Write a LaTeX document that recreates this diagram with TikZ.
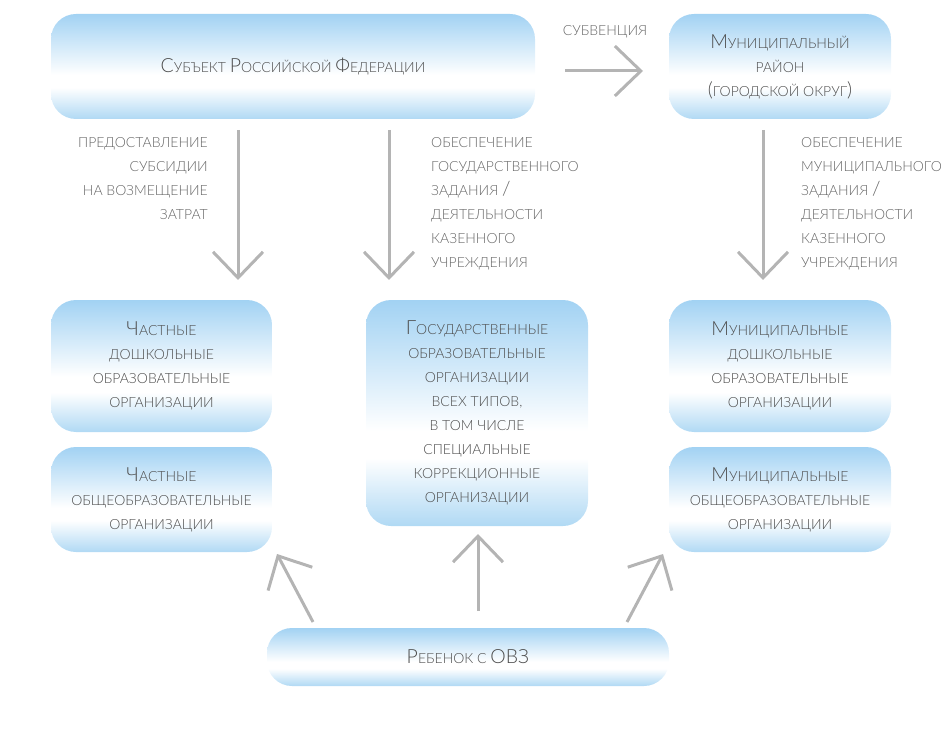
\documentclass[tikz,border=0pt]{standalone}
\usepackage{fontspec}
\setmainfont{Lato}[UprightFont=* Light]
\usetikzlibrary{arrows.meta}
\definecolor{btop}{HTML}{A2D2F3}
\definecolor{bbot}{HTML}{B0D9F4}
\definecolor{arrgray}{HTML}{B4B4B4}
\definecolor{txtc}{HTML}{4D4D4D}
\definecolor{lblc}{HTML}{666666}
\pgfdeclareverticalshading{boxshade}{100bp}{color(0bp)=(bbot); color(25bp)=(bbot); color(40bp)=(white); color(46bp)=(white); color(75bp)=(btop); color(100bp)=(btop)}
\newcommand\bigc[1]{{\fontsize{19.5}{24}\selectfont #1}}
\tikzset{
  box/.style={shading=boxshade, rounded corners=25pt, inner sep=0pt, align=center,
    text=txtc, font=\fontsize{14}{24}\selectfont},
  lbl/.style={inner sep=0pt, text=lblc, font=\fontsize{14}{24}\selectfont},
  arr/.style={draw=arrgray, line width=3pt, -{Straight Barb[length=26pt,width=50pt]}}
}
\begin{document}
\begin{tikzpicture}[x=1pt,y=-1pt]
\useasboundingbox (0,0) rectangle (942,735);
% boxes
\node[box, minimum width=484pt, minimum height=105pt] (subj) at (293,66.5)
  {\bigc{С}УБЪЕКТ \bigc{Р}ОССИЙСКОЙ \bigc{Ф}ЕДЕРАЦИИ};
\node[box, minimum width=222pt, minimum height=105pt] (mun) at (780,66.5)
  {\bigc{М}УНИЦИПАЛЬНЫЙ\\РАЙОН\\\bigc{(}ГОРОДСКОЙ ОКРУГ\bigc{)}};
\node[box, minimum width=221pt, minimum height=132pt] (pdo) at (161.5,366)
  {\bigc{Ч}АСТНЫЕ\\ДОШКОЛЬНЫЕ\\ОБРАЗОВАТЕЛЬНЫЕ\\ОРГАНИЗАЦИИ};
\node[box, minimum width=221pt, minimum height=105pt] (poo) at (161.5,499.5)
  {\bigc{Ч}АСТНЫЕ\\ОБЩЕОБРАЗОВАТЕЛЬНЫЕ\\ОРГАНИЗАЦИИ};
\node[box, minimum width=222pt, minimum height=226pt] (gos) at (477,413)
  {\bigc{Г}ОСУДАРСТВЕННЫЕ\\ОБРАЗОВАТЕЛЬНЫЕ\\ОРГАНИЗАЦИИ\\ВСЕХ ТИПОВ,\\В ТОМ ЧИСЛЕ\\СПЕЦИАЛЬНЫЕ\\КОРРЕКЦИОННЫЕ\\ОРГАНИЗАЦИИ};
\node[box, minimum width=222pt, minimum height=132pt] (mdo) at (780,366)
  {\bigc{М}УНИЦИПАЛЬНЫЕ\\ДОШКОЛЬНЫЕ\\ОБРАЗОВАТЕЛЬНЫЕ\\ОРГАНИЗАЦИИ};
\node[box, minimum width=222pt, minimum height=105pt] (moo) at (780,499.5)
  {\bigc{М}УНИЦИПАЛЬНЫЕ\\ОБЩЕОБРАЗОВАТЕЛЬНЫЕ\\ОРГАНИЗАЦИИ};
\node[box, minimum width=402pt, minimum height=58pt] (child) at (468,657)
  {\bigc{Р}ЕБЕНОК С \bigc{ОВЗ}};
% labels
\node[lbl, anchor=base] (lsub) at (605,36) {СУБВЕНЦИЯ};
\node[lbl, anchor=north east, align=right] (lleft) at (208,137)
  {ПРЕДОСТАВЛЕНИЕ\\СУБСИДИИ\\НА ВОЗМЕЩЕНИЕ\\ЗАТРАТ};
\node[lbl, anchor=north west, align=left] (lmid) at (431,137)
  {ОБЕСПЕЧЕНИЕ\\ГОСУДАРСТВЕННОГО\\ЗАДАНИЯ \bigc{/}\\ДЕЯТЕЛЬНОСТИ\\КАЗЕННОГО\\УЧРЕЖДЕНИЯ};
\node[lbl, anchor=north west, align=left] (lright) at (801,137)
  {ОБЕСПЕЧЕНИЕ\\МУНИЦИПАЛЬНОГО\\ЗАДАНИЯ \bigc{/}\\ДЕЯТЕЛЬНОСТИ\\КАЗЕННОГО\\УЧРЕЖДЕНИЯ};
% arrow end points
\coordinate (h1) at (565,71);   \coordinate (h2) at (643,71);
\coordinate (d1a) at (238,130); \coordinate (d1b) at (238,280);
\coordinate (d2a) at (389,130); \coordinate (d2b) at (389,280);
\coordinate (d3a) at (763,130); \coordinate (d3b) at (763,280);
\coordinate (u1a) at (313,622); \coordinate (u1b) at (277,554);
\coordinate (u2a) at (478,611); \coordinate (u2b) at (478,534);
\coordinate (u3a) at (627,622); \coordinate (u3b) at (663,554);
\draw[arr] (h1) -- (h2);
\draw[arr] (d1a) -- (d1b);
\draw[arr] (d2a) -- (d2b);
\draw[arr] (d3a) -- (d3b);
\draw[arr] (u1a) -- (u1b);
\draw[arr] (u2a) -- (u2b);
\draw[arr] (u3a) -- (u3b);
\end{tikzpicture}
\end{document}
